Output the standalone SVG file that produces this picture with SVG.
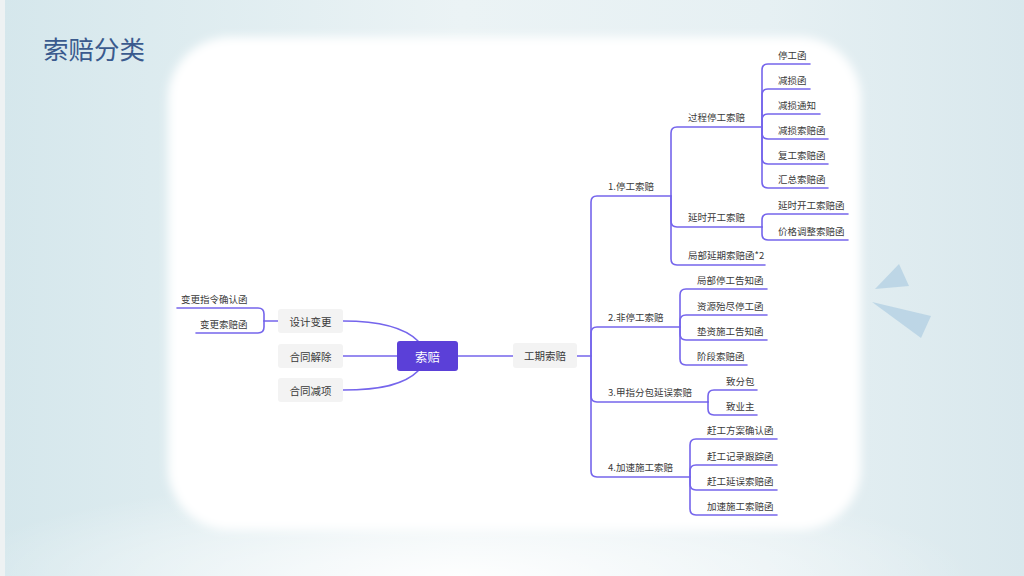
<svg xmlns="http://www.w3.org/2000/svg" width="1024" height="576" viewBox="0 0 1024 576">
<defs>
<linearGradient id="bg" x1="0" y1="0" x2="1" y2="0">
<stop offset="0" stop-color="#d5e7ec"/>
<stop offset="0.45" stop-color="#ebf3f5"/>
<stop offset="0.75" stop-color="#e6f0f3"/>
<stop offset="1" stop-color="#d9e8ed"/>
</linearGradient>
<radialGradient id="bgb" cx="0.45" cy="1" r="0.5" gradientTransform="translate(0.45,1) scale(1,0.35) translate(-0.45,-1)">
<stop offset="0" stop-color="#ffffff" stop-opacity="0.9"/>
<stop offset="1" stop-color="#ffffff" stop-opacity="0"/>
</radialGradient>
<filter id="soft" x="-10%" y="-10%" width="120%" height="120%">
<feGaussianBlur stdDeviation="5"/>
</filter>
<style>
.c{fill:none;stroke:#7565ec;stroke-width:1.6;stroke-linecap:round;stroke-linejoin:round}
.t{font-family:"Noto Sans CJK SC","Noto Sans",sans-serif;fill:#3a3a3a;dominant-baseline:central}
.leaf{font-size:9.5px}
.lvl{font-size:9.5px}
.box{fill:#f3f3f3}
.bt{font-size:10.5px;text-anchor:middle}
.tri{fill:#b9d4e4;opacity:0.9}
</style>
</defs>
<rect x="0" y="0" width="1024" height="576" fill="url(#bg)"/>
<rect x="0" y="0" width="1024" height="576" fill="url(#bgb)"/>
<rect x="0" y="0" width="5" height="576" fill="#eef2f3"/>
<rect x="168" y="37" width="693" height="493" rx="62" fill="#ffffff" filter="url(#soft)"/>
<text x="43" y="47" font-family="'Noto Sans CJK SC','Noto Sans',sans-serif" font-size="25.5" fill="#3a5a8e" dominant-baseline="central">索赔分类</text>
<polygon class="tri" points="899,264 875,289 909,286"/>
<polygon class="tri" points="872,302 931,316 921,338"/>

<g id="connectors">
<path class="c" d="M458 356 H513"/>
<path class="c" d="M343 356 H397"/>
<path class="c" d="M343 321 C382 321 405 328 418 341"/>
<path class="c" d="M343 390 C382 390 405 384 418 371"/>
<path class="c" d="M278 321 H264"/>
<path class="c" d="M264 321 V314 Q264 308 258 308 H177"/>
<path class="c" d="M264 321 V327 Q264 333 258 333 H196"/>

<path class="c" d="M577 356 H591"/>
<path class="c" d="M591 356 V202 Q591 196 597 196 H671"/>
<path class="c" d="M591 356 V333 Q591 327 597 327 H680"/>
<path class="c" d="M591 356 V396 Q591 402 597 402 H708"/>
<path class="c" d="M591 356 V471 Q591 477 597 477 H690"/>

<path class="c" d="M671 196 V133 Q671 127 677 127 H762"/>
<path class="c" d="M671 196 V221 Q671 227 677 227 H762"/>
<path class="c" d="M671 196 V259 Q671 265 677 265 H765"/>

<path class="c" d="M762 127 V70 Q762 64 768 64 H810"/>
<path class="c" d="M762 127 V95 Q762 89 768 89 H810"/>
<path class="c" d="M762 127 V120 Q762 114 768 114 H820"/>
<path class="c" d="M762 127 V133 Q762 139 768 139 H828"/>
<path class="c" d="M762 127 V158 Q762 164 768 164 H828"/>
<path class="c" d="M762 127 V182 Q762 188 768 188 H828"/>

<path class="c" d="M762 227 V220 Q762 214 768 214 H848"/>
<path class="c" d="M762 227 V234 Q762 240 768 240 H848"/>

<path class="c" d="M680 327 V295 Q680 289 686 289 H767"/>
<path class="c" d="M680 327 V321 Q680 315 686 315 H767"/>
<path class="c" d="M680 327 V334 Q680 340 686 340 H767"/>
<path class="c" d="M680 327 V359 Q680 365 686 365 H747"/>

<path class="c" d="M708 402 V396 Q708 390 714 390 H757"/>
<path class="c" d="M708 402 V409 Q708 415 714 415 H757"/>

<path class="c" d="M690 477 V445 Q690 439 696 439 H777"/>
<path class="c" d="M690 477 V471 Q690 465 696 465 H777"/>
<path class="c" d="M690 477 V484 Q690 490 696 490 H777"/>
<path class="c" d="M690 477 V509 Q690 515 696 515 H777"/>
</g>

<g id="root">
<rect x="397" y="341" width="61" height="30" rx="3" fill="#5b40d8"/>
<text x="427.5" y="356" font-family="'Noto Sans CJK SC','Noto Sans',sans-serif" font-size="12.5" fill="#ffffff" text-anchor="middle" dominant-baseline="central">索赔</text>
</g>
<g id="gongqi"><rect class="box" x="513" y="343" width="64" height="25" rx="3"/><text class="t bt" x="545" y="355.5">工期索赔</text></g>
<g id="sheji"><rect class="box" x="278" y="309" width="65" height="24" rx="3"/><text class="t bt" x="310.5" y="321">设计变更</text></g>
<g id="jiechu"><rect class="box" x="278" y="344" width="65" height="24" rx="3"/><text class="t bt" x="310.5" y="356">合同解除</text></g>
<g id="jianxiang"><rect class="box" x="278" y="378" width="65" height="24" rx="3"/><text class="t bt" x="310.5" y="390">合同减项</text></g>
<g id="bgzl"><text class="t leaf" x="181" y="299">变更指令确认函</text></g>
<g id="bgsp"><text class="t leaf" x="200" y="324">变更索赔函</text></g>

<g id="b1"><text class="t lvl" x="608" y="186">1.停工索赔</text></g>
<g id="b2"><text class="t lvl" x="608" y="317">2.非停工索赔</text></g>
<g id="b3"><text class="t lvl" x="608" y="392">3.甲指分包延误索赔</text></g>
<g id="b4"><text class="t lvl" x="608" y="467">4.加速施工索赔</text></g>

<g id="b1a"><text class="t lvl" x="688" y="117">过程停工索赔</text></g>
<g id="b1b"><text class="t lvl" x="688" y="217">延时开工索赔</text></g>
<g id="b1c"><text class="t lvl" x="688" y="255">局部延期索赔函*2</text></g>

<g id="l1"><text class="t leaf" x="778" y="54.5">停工函</text></g>
<g id="l2"><text class="t leaf" x="778" y="79.5">减损函</text></g>
<g id="l3"><text class="t leaf" x="778" y="104.5">减损通知</text></g>
<g id="l4"><text class="t leaf" x="778" y="129.5">减损索赔函</text></g>
<g id="l5"><text class="t leaf" x="778" y="154.5">复工索赔函</text></g>
<g id="l6"><text class="t leaf" x="778" y="178.5">汇总索赔函</text></g>
<g id="l7"><text class="t leaf" x="778" y="204.5">延时开工索赔函</text></g>
<g id="l8"><text class="t leaf" x="778" y="230.5">价格调整索赔函</text></g>

<g id="l9"><text class="t leaf" x="697" y="279.5">局部停工告知函</text></g>
<g id="l10"><text class="t leaf" x="697" y="305.5">资源殆尽停工函</text></g>
<g id="l11"><text class="t leaf" x="697" y="330.5">垫资施工告知函</text></g>
<g id="l12"><text class="t leaf" x="697" y="355.5">阶段索赔函</text></g>

<g id="l13"><text class="t leaf" x="726" y="380.5">致分包</text></g>
<g id="l14"><text class="t leaf" x="726" y="405.5">致业主</text></g>

<g id="l15"><text class="t leaf" x="707" y="429.5">赶工方案确认函</text></g>
<g id="l16"><text class="t leaf" x="707" y="455.5">赶工记录跟踪函</text></g>
<g id="l17"><text class="t leaf" x="707" y="480.5">赶工延误索赔函</text></g>
<g id="l18"><text class="t leaf" x="707" y="505.5">加速施工索赔函</text></g>
</svg>
